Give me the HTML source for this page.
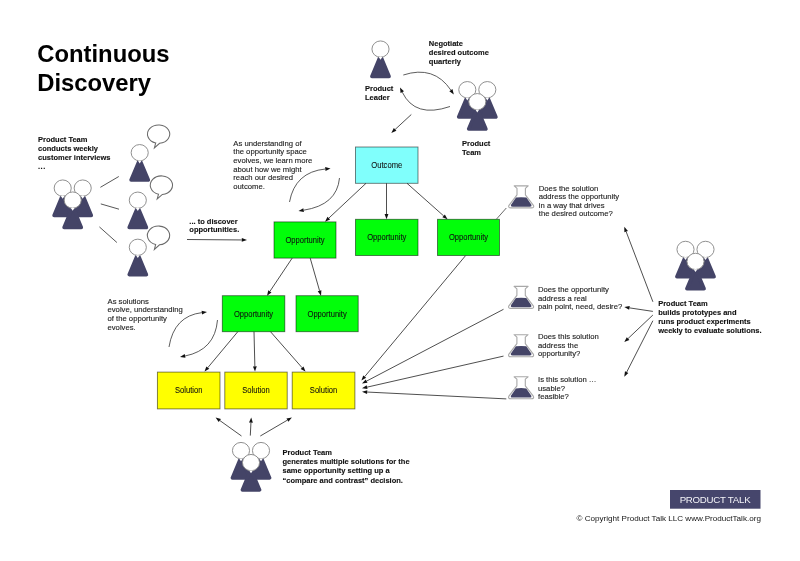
<!DOCTYPE html>
<html><head><meta charset="utf-8"><style>
html,body{margin:0;padding:0;background:#fff;}
svg{display:block;font-family:"Liberation Sans",sans-serif;will-change:transform;}
</style></head><body>
<svg width="800" height="561" viewBox="0 0 800 561">
<rect width="800" height="561" fill="#fff"/>
<text x="37.3" y="61.6" font-size="23.8" font-weight="bold" fill="#000" text-anchor="start" stroke="#000" stroke-width="0.01">
<tspan x="37.3" y="61.60">Continuous</tspan>
<tspan x="37.3" y="90.50">Discovery</tspan>
</text>
<text x="38" y="142.0" font-size="7.5" font-weight="bold" fill="#111" text-anchor="start" stroke="#111" stroke-width="0.12">
<tspan x="38" y="142.00">Product Team</tspan>
<tspan x="38" y="151.05">conducts weekly</tspan>
<tspan x="38" y="160.10">customer interviews</tspan>
<tspan x="38" y="169.15"><tspan letter-spacing="0.5">...</tspan></tspan>
</text>
<path d="M61.70,197.30 L63.70,197.30 L71.30,215.40 L54.10,215.40 Z" fill="#444467" stroke="#444467" stroke-width="3.6" stroke-linejoin="round"/>
<ellipse cx="62.7" cy="188.10" rx="8.55" ry="8.15" fill="#fff" stroke="#8a8a8a" stroke-width="0.95"/>
<path d="M60.80,196.00 L64.60,196.00 L62.70,198.80 Z" fill="#fff"/>
<path d="M81.70,197.30 L83.70,197.30 L91.30,215.40 L74.10,215.40 Z" fill="#444467" stroke="#444467" stroke-width="3.6" stroke-linejoin="round"/>
<ellipse cx="82.7" cy="188.10" rx="8.55" ry="8.15" fill="#fff" stroke="#8a8a8a" stroke-width="0.95"/>
<path d="M80.80,196.00 L84.60,196.00 L82.70,198.80 Z" fill="#fff"/>
<path d="M71.70,209.30 L73.70,209.30 L81.30,227.40 L64.10,227.40 Z" fill="#444467" stroke="#444467" stroke-width="3.6" stroke-linejoin="round"/>
<ellipse cx="72.7" cy="200.10" rx="8.55" ry="8.15" fill="#fff" stroke="#8a8a8a" stroke-width="0.95"/>
<path d="M70.80,208.00 L74.60,208.00 L72.70,210.80 Z" fill="#fff"/>
<line x1="100.4" y1="187.3" x2="118.8" y2="176.5" stroke="#444" stroke-width="0.9"/>
<line x1="100.8" y1="203.9" x2="119" y2="209.2" stroke="#444" stroke-width="0.9"/>
<line x1="99.4" y1="226.9" x2="116.9" y2="242.5" stroke="#444" stroke-width="0.9"/>
<path d="M138.70,161.90 L140.70,161.90 L148.30,180.00 L131.10,180.00 Z" fill="#444467" stroke="#444467" stroke-width="3.6" stroke-linejoin="round"/>
<ellipse cx="139.7" cy="152.70" rx="8.55" ry="8.15" fill="#fff" stroke="#8a8a8a" stroke-width="0.95"/>
<path d="M137.80,160.60 L141.60,160.60 L139.70,163.40 Z" fill="#fff"/>
<path d="M136.80,209.40 L138.80,209.40 L146.40,227.50 L129.20,227.50 Z" fill="#444467" stroke="#444467" stroke-width="3.6" stroke-linejoin="round"/>
<ellipse cx="137.8" cy="200.20" rx="8.55" ry="8.15" fill="#fff" stroke="#8a8a8a" stroke-width="0.95"/>
<path d="M135.90,208.10 L139.70,208.10 L137.80,210.90 Z" fill="#fff"/>
<path d="M136.80,256.50 L138.80,256.50 L146.40,274.60 L129.20,274.60 Z" fill="#444467" stroke="#444467" stroke-width="3.6" stroke-linejoin="round"/>
<ellipse cx="137.8" cy="247.30" rx="8.55" ry="8.15" fill="#fff" stroke="#8a8a8a" stroke-width="0.95"/>
<path d="M135.90,255.20 L139.70,255.20 L137.80,258.00 Z" fill="#fff"/>
<path d="M159.57,143.27 A11.10,9.15 0 1 0 155.73,142.99 L154.40,147.90 Z" fill="#fff" stroke="#6a6a6a" stroke-width="1.05" stroke-linejoin="miter"/>
<path d="M162.37,194.46 A11.10,9.30 0 1 0 158.53,194.18 L157.20,198.90 Z" fill="#fff" stroke="#6a6a6a" stroke-width="1.05" stroke-linejoin="miter"/>
<path d="M159.52,244.76 A11.15,9.35 0 1 0 155.66,244.48 L154.40,249.40 Z" fill="#fff" stroke="#6a6a6a" stroke-width="1.05" stroke-linejoin="miter"/>
<text x="189.3" y="223.7" font-size="7.5" font-weight="bold" fill="#111" text-anchor="start" stroke="#111" stroke-width="0.12">
<tspan x="189.3" y="223.70">... to discover</tspan>
<tspan x="189.3" y="232.30">opportunities.</tspan>
</text>
<line x1="187" y1="239.5" x2="241.80" y2="239.96" stroke="#222" stroke-width="0.8"/>
<path d="M247.00,240.00 L241.78,241.86 L241.82,238.06 Z" fill="#111"/>
<path d="M379.50,58.30 L381.50,58.30 L389.10,76.40 L371.90,76.40 Z" fill="#444467" stroke="#444467" stroke-width="3.6" stroke-linejoin="round"/>
<ellipse cx="380.5" cy="49.10" rx="8.55" ry="8.15" fill="#fff" stroke="#8a8a8a" stroke-width="0.95"/>
<path d="M378.60,57.00 L382.40,57.00 L380.50,59.80 Z" fill="#fff"/>
<text x="365" y="91.3" font-size="7.5" font-weight="bold" fill="#111" text-anchor="start" stroke="#111" stroke-width="0.12">
<tspan x="365" y="91.30">Product</tspan>
<tspan x="365" y="100.10">Leader</tspan>
</text>
<text x="428.8" y="45.5" font-size="7.5" font-weight="bold" fill="#111" text-anchor="start" stroke="#111" stroke-width="0.12">
<tspan x="428.8" y="45.50">Negotiate</tspan>
<tspan x="428.8" y="54.50">desired outcome</tspan>
<tspan x="428.8" y="63.50">quarterly</tspan>
</text>
<path d="M466.30,98.90 L468.30,98.90 L475.90,117.00 L458.70,117.00 Z" fill="#444467" stroke="#444467" stroke-width="3.6" stroke-linejoin="round"/>
<ellipse cx="467.3" cy="89.70" rx="8.55" ry="8.15" fill="#fff" stroke="#8a8a8a" stroke-width="0.95"/>
<path d="M465.40,97.60 L469.20,97.60 L467.30,100.40 Z" fill="#fff"/>
<path d="M486.30,98.90 L488.30,98.90 L495.90,117.00 L478.70,117.00 Z" fill="#444467" stroke="#444467" stroke-width="3.6" stroke-linejoin="round"/>
<ellipse cx="487.3" cy="89.70" rx="8.55" ry="8.15" fill="#fff" stroke="#8a8a8a" stroke-width="0.95"/>
<path d="M485.40,97.60 L489.20,97.60 L487.30,100.40 Z" fill="#fff"/>
<path d="M476.30,110.90 L478.30,110.90 L485.90,129.00 L468.70,129.00 Z" fill="#444467" stroke="#444467" stroke-width="3.6" stroke-linejoin="round"/>
<ellipse cx="477.3" cy="101.70" rx="8.55" ry="8.15" fill="#fff" stroke="#8a8a8a" stroke-width="0.95"/>
<path d="M475.40,109.60 L479.20,109.60 L477.30,112.40 Z" fill="#fff"/>
<text x="462" y="146.3" font-size="7.5" font-weight="bold" fill="#111" text-anchor="start" stroke="#111" stroke-width="0.12">
<tspan x="462" y="146.30">Product</tspan>
<tspan x="462" y="155.10">Team</tspan>
</text>
<path d="M403.3,75 Q434,65 450.90,90.18" fill="none" stroke="#333" stroke-width="0.8"/>
<path d="M453.80,94.50 L449.32,91.24 L452.48,89.12 Z" fill="#111"/>
<path d="M450,106.5 Q415,118.5 402.26,92.18" fill="none" stroke="#333" stroke-width="0.8"/>
<path d="M400.00,87.50 L403.98,91.35 L400.55,93.01 Z" fill="#111"/>
<line x1="411.3" y1="114.5" x2="395.12" y2="129.47" stroke="#222" stroke-width="0.8"/>
<path d="M391.30,133.00 L393.83,128.07 L396.41,130.86 Z" fill="#111"/>
<text x="233.3" y="145.8" font-size="7.7" font-weight="normal" fill="#222" text-anchor="start" stroke="#222" stroke-width="0.12">
<tspan x="233.3" y="145.80">As understanding of</tspan>
<tspan x="233.3" y="154.40">the opportunity space</tspan>
<tspan x="233.3" y="163.00">evolves, we learn more</tspan>
<tspan x="233.3" y="171.60">about how we might</tspan>
<tspan x="233.3" y="180.20">reach our desired</tspan>
<tspan x="233.3" y="188.80">outcome.</tspan>
</text>
<path d="M289.5,202 Q295,172 325.33,169.01" fill="none" stroke="#333" stroke-width="0.8"/>
<path d="M330.50,168.50 L325.51,170.90 L325.14,167.12 Z" fill="#111"/>
<path d="M339.5,178 Q337,205 303.64,210.20" fill="none" stroke="#333" stroke-width="0.8"/>
<path d="M298.50,211.00 L303.35,208.32 L303.93,212.08 Z" fill="#111"/>
<rect x="355.5" y="147" width="62.5" height="36.3" fill="#80fffc" stroke="#000" stroke-opacity="0.55" stroke-width="0.9"/>
<text x="371.25" y="168.05" font-size="8.3" fill="#111" stroke="#111" stroke-width="0.08" textLength="31" lengthAdjust="spacingAndGlyphs">Outcome</text>
<rect x="274" y="221.9" width="62" height="36.2" fill="#02fe0a" stroke="#000" stroke-opacity="0.55" stroke-width="0.9"/>
<text x="285.40" y="242.90" font-size="8.3" fill="#111" stroke="#111" stroke-width="0.08" textLength="39.2" lengthAdjust="spacingAndGlyphs">Opportunity</text>
<rect x="355.5" y="219.3" width="62.5" height="36.2" fill="#02fe0a" stroke="#000" stroke-opacity="0.55" stroke-width="0.9"/>
<text x="367.15" y="240.30" font-size="8.3" fill="#111" stroke="#111" stroke-width="0.08" textLength="39.2" lengthAdjust="spacingAndGlyphs">Opportunity</text>
<rect x="437.5" y="219.3" width="62" height="36.2" fill="#02fe0a" stroke="#000" stroke-opacity="0.55" stroke-width="0.9"/>
<text x="448.90" y="240.30" font-size="8.3" fill="#111" stroke="#111" stroke-width="0.08" textLength="39.2" lengthAdjust="spacingAndGlyphs">Opportunity</text>
<rect x="222.3" y="295.7" width="62.5" height="36" fill="#02fe0a" stroke="#000" stroke-opacity="0.55" stroke-width="0.9"/>
<text x="233.95" y="316.60" font-size="8.3" fill="#111" stroke="#111" stroke-width="0.08" textLength="39.2" lengthAdjust="spacingAndGlyphs">Opportunity</text>
<rect x="296" y="295.7" width="62.2" height="36" fill="#02fe0a" stroke="#000" stroke-opacity="0.55" stroke-width="0.9"/>
<text x="307.50" y="316.60" font-size="8.3" fill="#111" stroke="#111" stroke-width="0.08" textLength="39.2" lengthAdjust="spacingAndGlyphs">Opportunity</text>
<rect x="157.4" y="372.1" width="62.6" height="36.8" fill="#ffff00" stroke="#000" stroke-opacity="0.55" stroke-width="0.9"/>
<text x="175.00" y="393.40" font-size="8.3" fill="#111" stroke="#111" stroke-width="0.08" textLength="27.4" lengthAdjust="spacingAndGlyphs">Solution</text>
<rect x="224.8" y="372.1" width="62.4" height="36.8" fill="#ffff00" stroke="#000" stroke-opacity="0.55" stroke-width="0.9"/>
<text x="242.30" y="393.40" font-size="8.3" fill="#111" stroke="#111" stroke-width="0.08" textLength="27.4" lengthAdjust="spacingAndGlyphs">Solution</text>
<rect x="292.2" y="372.1" width="62.7" height="36.8" fill="#ffff00" stroke="#000" stroke-opacity="0.55" stroke-width="0.9"/>
<text x="309.85" y="393.40" font-size="8.3" fill="#111" stroke="#111" stroke-width="0.08" textLength="27.4" lengthAdjust="spacingAndGlyphs">Solution</text>
<line x1="366" y1="183.3" x2="328.80" y2="218.15" stroke="#222" stroke-width="0.8"/>
<path d="M325.00,221.70 L327.50,216.76 L330.09,219.53 Z" fill="#111"/>
<line x1="386.5" y1="183.3" x2="386.50" y2="214.10" stroke="#222" stroke-width="0.8"/>
<path d="M386.50,219.30 L384.60,214.10 L388.40,214.10 Z" fill="#111"/>
<line x1="407" y1="183.3" x2="443.61" y2="215.85" stroke="#222" stroke-width="0.8"/>
<path d="M447.50,219.30 L442.35,217.27 L444.88,214.43 Z" fill="#111"/>
<line x1="292.2" y1="258.1" x2="269.90" y2="291.38" stroke="#222" stroke-width="0.8"/>
<path d="M267.00,295.70 L268.32,290.32 L271.47,292.44 Z" fill="#111"/>
<line x1="310.2" y1="258.1" x2="319.56" y2="290.70" stroke="#222" stroke-width="0.8"/>
<path d="M321.00,295.70 L317.74,291.23 L321.39,290.18 Z" fill="#111"/>
<line x1="237.8" y1="331.7" x2="207.83" y2="367.61" stroke="#222" stroke-width="0.8"/>
<path d="M204.50,371.60 L206.37,366.39 L209.29,368.83 Z" fill="#111"/>
<line x1="254" y1="331.7" x2="254.87" y2="366.40" stroke="#222" stroke-width="0.8"/>
<path d="M255.00,371.60 L252.97,366.45 L256.77,366.35 Z" fill="#111"/>
<line x1="270.5" y1="331.7" x2="302.07" y2="367.69" stroke="#222" stroke-width="0.8"/>
<path d="M305.50,371.60 L300.64,368.94 L303.50,366.44 Z" fill="#111"/>
<text x="107.5" y="303.8" font-size="7.7" font-weight="normal" fill="#222" text-anchor="start" stroke="#222" stroke-width="0.12">
<tspan x="107.5" y="303.80">As solutions</tspan>
<tspan x="107.5" y="312.40">evolve, understanding</tspan>
<tspan x="107.5" y="321.00">of the opportunity</tspan>
<tspan x="107.5" y="329.60">evolves.</tspan>
</text>
<path d="M169,347 Q174,316 201.84,312.63" fill="none" stroke="#333" stroke-width="0.8"/>
<path d="M207.00,312.00 L202.07,314.51 L201.61,310.74 Z" fill="#111"/>
<path d="M217.5,320 Q215,350 185.10,355.98" fill="none" stroke="#333" stroke-width="0.8"/>
<path d="M180.00,357.00 L184.73,354.12 L185.47,357.84 Z" fill="#111"/>
<line x1="241.5" y1="436" x2="219.83" y2="420.52" stroke="#222" stroke-width="0.8"/>
<path d="M215.60,417.50 L220.94,418.98 L218.73,422.07 Z" fill="#111"/>
<line x1="250.3" y1="435.6" x2="250.94" y2="422.69" stroke="#222" stroke-width="0.8"/>
<path d="M251.20,417.50 L252.84,422.79 L249.04,422.60 Z" fill="#111"/>
<line x1="260.3" y1="436" x2="287.41" y2="420.13" stroke="#222" stroke-width="0.8"/>
<path d="M291.90,417.50 L288.37,421.77 L286.45,418.49 Z" fill="#111"/>
<path d="M240.00,459.80 L242.00,459.80 L249.60,477.90 L232.40,477.90 Z" fill="#444467" stroke="#444467" stroke-width="3.6" stroke-linejoin="round"/>
<ellipse cx="241" cy="450.60" rx="8.55" ry="8.15" fill="#fff" stroke="#8a8a8a" stroke-width="0.95"/>
<path d="M239.10,458.50 L242.90,458.50 L241.00,461.30 Z" fill="#fff"/>
<path d="M260.00,459.80 L262.00,459.80 L269.60,477.90 L252.40,477.90 Z" fill="#444467" stroke="#444467" stroke-width="3.6" stroke-linejoin="round"/>
<ellipse cx="261" cy="450.60" rx="8.55" ry="8.15" fill="#fff" stroke="#8a8a8a" stroke-width="0.95"/>
<path d="M259.10,458.50 L262.90,458.50 L261.00,461.30 Z" fill="#fff"/>
<path d="M250.00,471.80 L252.00,471.80 L259.60,489.90 L242.40,489.90 Z" fill="#444467" stroke="#444467" stroke-width="3.6" stroke-linejoin="round"/>
<ellipse cx="251" cy="462.60" rx="8.55" ry="8.15" fill="#fff" stroke="#8a8a8a" stroke-width="0.95"/>
<path d="M249.10,470.50 L252.90,470.50 L251.00,473.30 Z" fill="#fff"/>
<text x="282.5" y="455" font-size="7.5" font-weight="bold" fill="#111" text-anchor="start" stroke="#111" stroke-width="0.12">
<tspan x="282.5" y="455.00">Product Team</tspan>
<tspan x="282.5" y="464.20">generates multiple solutions for the</tspan>
<tspan x="282.5" y="473.40">same opportunity setting up a</tspan>
<tspan x="282.5" y="482.60">“compare and contrast” decision.</tspan>
</text>
<path d="M514.20,185.90 L528.20,185.90 L525.40,188.30 L525.40,194.90 L533.40,205.30 Q534.60,207.90 531.40,207.90 L511.00,207.90 Q507.80,207.90 509.00,205.30 L517.00,194.90 L517.00,188.30 Z" fill="#fff" stroke="#a8a8a8" stroke-width="1.1" stroke-linejoin="round"/>
<path d="M516.00,197.50 Q521.20,196.90 526.40,197.50 L531.20,204.50 Q532.20,206.70 529.80,206.70 L512.60,206.70 Q510.20,206.70 511.20,204.50 Z" fill="#444467"/>
<path d="M514.10,286.40 L528.10,286.40 L525.30,288.80 L525.30,295.40 L533.30,305.80 Q534.50,308.40 531.30,308.40 L510.90,308.40 Q507.70,308.40 508.90,305.80 L516.90,295.40 L516.90,288.80 Z" fill="#fff" stroke="#a8a8a8" stroke-width="1.1" stroke-linejoin="round"/>
<path d="M515.90,298.00 Q521.10,297.40 526.30,298.00 L531.10,305.00 Q532.10,307.20 529.70,307.20 L512.50,307.20 Q510.10,307.20 511.10,305.00 Z" fill="#444467"/>
<path d="M514.10,334.70 L528.10,334.70 L525.30,337.10 L525.30,343.70 L533.30,354.10 Q534.50,356.70 531.30,356.70 L510.90,356.70 Q507.70,356.70 508.90,354.10 L516.90,343.70 L516.90,337.10 Z" fill="#fff" stroke="#a8a8a8" stroke-width="1.1" stroke-linejoin="round"/>
<path d="M515.90,346.30 Q521.10,345.70 526.30,346.30 L531.10,353.30 Q532.10,355.50 529.70,355.50 L512.50,355.50 Q510.10,355.50 511.10,353.30 Z" fill="#444467"/>
<path d="M514.10,376.80 L528.10,376.80 L525.30,379.20 L525.30,385.80 L533.30,396.20 Q534.50,398.80 531.30,398.80 L510.90,398.80 Q507.70,398.80 508.90,396.20 L516.90,385.80 L516.90,379.20 Z" fill="#fff" stroke="#a8a8a8" stroke-width="1.1" stroke-linejoin="round"/>
<path d="M515.90,388.40 Q521.10,387.80 526.30,388.40 L531.10,395.40 Q532.10,397.60 529.70,397.60 L512.50,397.60 Q510.10,397.60 511.10,395.40 Z" fill="#444467"/>
<text x="538.8" y="190.8" font-size="7.7" font-weight="normal" fill="#222" text-anchor="start" stroke="#222" stroke-width="0.12">
<tspan x="538.8" y="190.80">Does the solution</tspan>
<tspan x="538.8" y="199.30">address the opportunity</tspan>
<tspan x="538.8" y="207.80">in a way that drives</tspan>
<tspan x="538.8" y="216.30">the desired outcome?</tspan>
</text>
<text x="538" y="292.4" font-size="7.7" font-weight="normal" fill="#222" text-anchor="start" stroke="#222" stroke-width="0.12">
<tspan x="538" y="292.40">Does the opportunity</tspan>
<tspan x="538" y="300.90">address a real</tspan>
<tspan x="538" y="309.40">pain point, need, desire?</tspan>
</text>
<text x="538" y="339.3" font-size="7.7" font-weight="normal" fill="#222" text-anchor="start" stroke="#222" stroke-width="0.12">
<tspan x="538" y="339.30">Does this solution</tspan>
<tspan x="538" y="347.80">address the</tspan>
<tspan x="538" y="356.30">opportunity?</tspan>
</text>
<text x="538" y="382" font-size="7.7" font-weight="normal" fill="#222" text-anchor="start" stroke="#222" stroke-width="0.12">
<tspan x="538" y="382.00">Is this solution …</tspan>
<tspan x="538" y="390.50">usable?</tspan>
<tspan x="538" y="399.00">feasible?</tspan>
</text>
<line x1="506.3" y1="208" x2="496.3" y2="219.3" stroke="#444" stroke-width="0.8"/>
<line x1="465.5" y1="255.7" x2="364.73" y2="376.61" stroke="#222" stroke-width="0.8"/>
<path d="M361.40,380.60 L363.27,375.39 L366.19,377.82 Z" fill="#111"/>
<line x1="503.5" y1="309.3" x2="366.61" y2="381.09" stroke="#222" stroke-width="0.8"/>
<path d="M362.00,383.50 L365.72,379.40 L367.49,382.77 Z" fill="#111"/>
<line x1="503.5" y1="356.1" x2="367.07" y2="387.15" stroke="#222" stroke-width="0.8"/>
<path d="M362.00,388.30 L366.65,385.29 L367.49,389.00 Z" fill="#111"/>
<line x1="506.3" y1="398.9" x2="367.19" y2="392.06" stroke="#222" stroke-width="0.8"/>
<path d="M362.00,391.80 L367.29,390.16 L367.10,393.95 Z" fill="#111"/>
<path d="M684.50,258.60 L686.50,258.60 L694.10,276.70 L676.90,276.70 Z" fill="#444467" stroke="#444467" stroke-width="3.6" stroke-linejoin="round"/>
<ellipse cx="685.5" cy="249.40" rx="8.55" ry="8.15" fill="#fff" stroke="#8a8a8a" stroke-width="0.95"/>
<path d="M683.60,257.30 L687.40,257.30 L685.50,260.10 Z" fill="#fff"/>
<path d="M704.50,258.60 L706.50,258.60 L714.10,276.70 L696.90,276.70 Z" fill="#444467" stroke="#444467" stroke-width="3.6" stroke-linejoin="round"/>
<ellipse cx="705.5" cy="249.40" rx="8.55" ry="8.15" fill="#fff" stroke="#8a8a8a" stroke-width="0.95"/>
<path d="M703.60,257.30 L707.40,257.30 L705.50,260.10 Z" fill="#fff"/>
<path d="M694.50,270.60 L696.50,270.60 L704.10,288.70 L686.90,288.70 Z" fill="#444467" stroke="#444467" stroke-width="3.6" stroke-linejoin="round"/>
<ellipse cx="695.5" cy="261.40" rx="8.55" ry="8.15" fill="#fff" stroke="#8a8a8a" stroke-width="0.95"/>
<path d="M693.60,269.30 L697.40,269.30 L695.50,272.10 Z" fill="#fff"/>
<text x="658.2" y="306" font-size="7.5" font-weight="bold" fill="#111" text-anchor="start" stroke="#111" stroke-width="0.12">
<tspan x="658.2" y="306.00">Product Team</tspan>
<tspan x="658.2" y="315.00">builds prototypes and</tspan>
<tspan x="658.2" y="324.00">runs product experiments</tspan>
<tspan x="658.2" y="333.00">weekly to evaluate solutions.</tspan>
</text>
<line x1="652.9" y1="301.8" x2="626.15" y2="231.66" stroke="#222" stroke-width="0.8"/>
<path d="M624.30,226.80 L627.93,230.98 L624.38,232.34 Z" fill="#111"/>
<line x1="652.9" y1="311.4" x2="629.44" y2="307.87" stroke="#222" stroke-width="0.8"/>
<path d="M624.30,307.10 L629.72,305.99 L629.16,309.75 Z" fill="#111"/>
<line x1="652.9" y1="315" x2="628.07" y2="338.52" stroke="#222" stroke-width="0.8"/>
<path d="M624.30,342.10 L626.77,337.14 L629.38,339.90 Z" fill="#111"/>
<line x1="652.9" y1="320.7" x2="626.66" y2="372.17" stroke="#222" stroke-width="0.8"/>
<path d="M624.30,376.80 L624.97,371.30 L628.35,373.03 Z" fill="#111"/>
<rect x="670" y="490" width="90.5" height="18.7" fill="#46466c"/>
<text x="715" y="502.7" text-anchor="middle" font-size="9.7" letter-spacing="-0.25" fill="#f4f4f8">PRODUCT TALK</text>
<text x="576.5" y="521" font-size="8.1" fill="#151515">© Copyright Product Talk LLC www.ProductTalk.org</text>
</svg></body></html>
